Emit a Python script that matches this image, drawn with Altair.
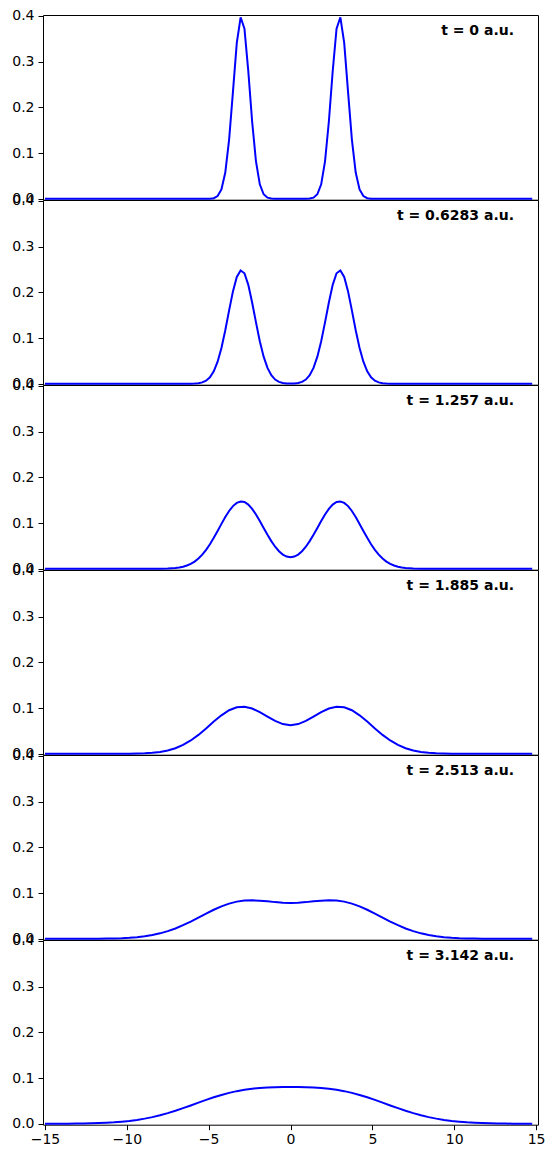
import altair as alt
import pandas as pd

# x sampling of the narrow packets (t = 0, t = 0.6283)
x_fine = [-15.0, -6.797, -6.563, -6.328, -6.094, -5.859, -5.625, -5.391, -5.156, -4.922,
          -4.688, -4.453, -4.219, -3.984, -3.75, -3.516, -3.281, -3.047, -2.813, -2.578,
          -2.344, -2.109, -1.875, -1.641, -1.406, -1.172, -0.938, -0.703, -0.469, -0.234,
          0.0, 0.234, 0.469, 0.703, 0.938, 1.172, 1.406, 1.641, 1.875, 2.109,
          2.344, 2.578, 2.813, 3.047, 3.281, 3.516, 3.75, 3.984, 4.219, 4.453,
          4.688, 4.922, 5.156, 5.391, 5.625, 5.859, 6.094, 6.328, 6.563, 6.797, 14.766]

# x sampling of the t = 1.257 packets (dense in the middle)
x_mid = [-15.0, -14.531, -14.063, -13.594, -13.125, -12.656, -12.188, -11.719, -11.25, -10.781,
         -10.313, -9.844, -9.375, -8.906, -8.438, -7.969, -7.5, -7.031,
         -6.797, -6.563, -6.328, -6.094, -5.859, -5.625, -5.391, -5.156, -4.922,
         -4.688, -4.453, -4.219, -3.984, -3.75, -3.516, -3.281, -3.047, -2.813, -2.578,
         -2.344, -2.109, -1.875, -1.641, -1.406, -1.172, -0.938, -0.703, -0.469, -0.234,
         0.0, 0.234, 0.469, 0.703, 0.938, 1.172, 1.406, 1.641, 1.875, 2.109,
         2.344, 2.578, 2.813, 3.047, 3.281, 3.516, 3.75, 3.984, 4.219, 4.453,
         4.688, 4.922, 5.156, 5.391, 5.625, 5.859, 6.094, 6.328, 6.563, 6.797,
         7.031, 7.5, 7.969, 8.438, 8.906, 9.375, 9.844, 10.313, 10.781, 11.25,
         11.719, 12.188, 12.656, 13.125, 13.594, 14.063, 14.531, 14.766]

# x sampling of the wider packets
x_coarse = [-15.0, -14.531, -14.063, -13.594, -13.125, -12.656, -12.188, -11.719, -11.25, -10.781,
            -10.313, -9.844, -9.375, -8.906, -8.438, -7.969, -7.5, -7.031, -6.563, -6.094,
            -5.625, -5.156, -4.688, -4.219, -3.75, -3.281, -2.813, -2.344, -1.875, -1.406,
            -0.938, -0.469, 0.0, 0.469, 0.938, 1.406, 1.875, 2.344, 2.813, 3.281,
            3.75, 4.219, 4.688, 5.156, 5.625, 6.094, 6.563, 7.031, 7.5, 7.969,
            8.438, 8.906, 9.375, 9.844, 10.313, 10.781, 11.25, 11.719, 12.188, 12.656,
            13.125, 13.594, 14.063, 14.531, 14.766]

dens_t0 = [0,
           0, 0, 0, 0, 0, 0, 0,
           0, 0.0002, 0.0013, 0.0059, 0.0205, 0.0575, 0.1295, 0.234, 0.341, 0.397,
           0.372, 0.279, 0.169, 0.0816, 0.0317, 0.0099, 0.0025, 0.0005, 0.0001,
           0, 0, 0, 0, 0, 0, 0,
           0.0001, 0.0005, 0.0025, 0.0099, 0.0317, 0.0816, 0.169, 0.279, 0.372,
           0.397, 0.341, 0.234, 0.1295, 0.0575, 0.0205, 0.0059, 0.0013, 0.0002,
           0, 0, 0, 0, 0, 0, 0, 0,
           0]

dens_t1 = [0,
           0, 0, 0, 0.0002, 0.0004, 0.0012, 0.0030, 0.0068, 0.0142, 0.0273,
           0.0483, 0.0785, 0.1172, 0.1606, 0.2021, 0.2336, 0.2480, 0.2417, 0.2164, 0.1779,
           0.1343, 0.0931, 0.0593, 0.0347, 0.0186, 0.0092, 0.0042, 0.0017, 0.0007,
           0.0005,
           0.0007, 0.0017, 0.0042, 0.0092, 0.0186, 0.0347, 0.0593, 0.0931, 0.1343,
           0.1779, 0.2164, 0.2417, 0.2480, 0.2336, 0.2021, 0.1606, 0.1172, 0.0785, 0.0483,
           0.0273, 0.0142, 0.0068, 0.0030, 0.0012, 0.0004, 0.0002, 0, 0, 0,
           0]

dens_t2 = [0, 0, 0, 0, 0, 0, 0, 0, 0, 0,
           0, 0, 0, 0, 0.0001, 0.0002, 0.0006, 0.0017,
           0.0029, 0.0046, 0.0072, 0.0108, 0.0158, 0.0224, 0.0309, 0.0414, 0.0537,
           0.0677, 0.0828, 0.0982, 0.1131, 0.1264, 0.1371, 0.1442, 0.1473, 0.1460, 0.1404,
           0.1311, 0.1188, 0.1045, 0.0894, 0.0743, 0.0605, 0.0482, 0.0384, 0.0311, 0.0267,
           0.0252,
           0.0267, 0.0311, 0.0384, 0.0482, 0.0605, 0.0743, 0.0894, 0.1045, 0.1188, 0.1311,
           0.1404, 0.1460, 0.1473, 0.1442, 0.1371, 0.1264, 0.1131, 0.0982, 0.0828, 0.0677,
           0.0537, 0.0414, 0.0309, 0.0224, 0.0158, 0.0108, 0.0072, 0.0046, 0.0029,
           0.0017, 0.0006, 0.0002, 0.0001, 0, 0, 0, 0, 0, 0,
           0, 0, 0, 0, 0, 0, 0,
           0]

dens_t3 = [0, 0, 0, 0, 0, 0, 0, 0,
           0, 0, 0.0001, 0.0002, 0.0005, 0.0010, 0.0021, 0.0040, 0.0071, 0.0121,
           0.0193, 0.0291, 0.0413, 0.0555, 0.0704, 0.0842, 0.0953, 0.1018, 0.1030, 0.0991,
           0.0911, 0.0812, 0.0718, 0.0650,
           0.0626,
           0.0650, 0.0718, 0.0812, 0.0911, 0.0991, 0.1030, 0.1018, 0.0953, 0.0842, 0.0704,
           0.0555, 0.0413, 0.0291, 0.0193, 0.0121, 0.0071, 0.0040, 0.0021, 0.0010, 0.0005,
           0.0002, 0.0001, 0, 0,
           0, 0, 0, 0, 0, 0, 0,
           0]

dens_t4 = [0, 0, 0, 0, 0, 0.0001, 0.0001, 0.0002, 0.0004, 0.0008,
           0.0013, 0.0022, 0.0035, 0.0055, 0.0082, 0.0119, 0.0167, 0.0226, 0.0297, 0.0377,
           0.0463, 0.0551, 0.0635, 0.0710, 0.0770, 0.0813, 0.0836, 0.0842, 0.0834, 0.0819,
           0.0802, 0.0789,
           0.0784,
           0.0789, 0.0802, 0.0819, 0.0834, 0.0842, 0.0836, 0.0813, 0.0770, 0.0710, 0.0635,
           0.0551, 0.0463, 0.0377, 0.0297, 0.0226, 0.0167, 0.0119, 0.0082, 0.0055, 0.0035,
           0.0022, 0.0013, 0.0008, 0.0004, 0.0002, 0.0001, 0.0001, 0, 0, 0, 0,
           0]

dens_t5 = [0.0001, 0.0001, 0.0002, 0.0003, 0.0004, 0.0006, 0.0010, 0.0015, 0.0022, 0.0031,
           0.0045, 0.0062, 0.0085, 0.0113, 0.0146, 0.0187, 0.0233, 0.0285, 0.0342, 0.0401,
           0.0462, 0.0522, 0.0579, 0.0631, 0.0676, 0.0714, 0.0744, 0.0767, 0.0783, 0.0793,
           0.0800, 0.0803,
           0.0804,
           0.0803, 0.0800, 0.0793, 0.0783, 0.0767, 0.0744, 0.0714, 0.0676, 0.0631, 0.0579,
           0.0522, 0.0462, 0.0401, 0.0342, 0.0285, 0.0233, 0.0187, 0.0146, 0.0113, 0.0085,
           0.0062, 0.0045, 0.0031, 0.0022, 0.0015, 0.0010, 0.0006, 0.0004, 0.0003, 0.0002,
           0.0001,
           0.0001]

labels = ["t = 0 a.u.", "t = 0.6283 a.u.", "t = 1.257 a.u.",
          "t = 1.885 a.u.", "t = 2.513 a.u.", "t = 3.142 a.u."]

x_ticks = [-15, -10, -5, 0, 5, 10, 15]
y_ticks = [0.0, 0.1, 0.2, 0.3, 0.4]

series = [(x_fine, dens_t0), (x_fine, dens_t1), (x_mid, dens_t2),
          (x_coarse, dens_t3), (x_coarse, dens_t4), (x_coarse, dens_t5)]

FONT = "DejaVu Sans"
x_scale = alt.Scale(domain=[-15.12, 15.12], nice=False, zero=False)
y_scale = alt.Scale(domain=[-0.002, 0.402], nice=False, zero=False)

panels = []
for i, ((xs, ys), lab) in enumerate(zip(series, labels)):
    df = pd.DataFrame({"x": xs, "y": ys})
    is_last = i == len(series) - 1
    if is_last:
        x_enc = alt.X("x:Q", scale=x_scale,
                      axis=alt.Axis(values=x_ticks, title=None, grid=False, domain=False,
                                    tickSize=5, labelPadding=3, labelFontSize=14))
    else:
        x_enc = alt.X("x:Q", scale=x_scale, axis=None)
    y_enc = alt.Y("y:Q", scale=y_scale,
                  axis=alt.Axis(values=y_ticks, format=".1f", title=None, grid=False,
                                domain=False, tickSize=5, labelPadding=4, labelFontSize=14))
    line = alt.Chart(df).mark_line(color="#0000ff", strokeWidth=2).encode(x=x_enc, y=y_enc)
    txt = alt.Chart(pd.DataFrame({"label": [lab]})).mark_text(
        align="right", baseline="middle", fontWeight="bold", fontSize=14,
        font=FONT, color="black"
    ).encode(x=alt.value(471), y=alt.value(16), text="label:N")
    panels.append(alt.layer(line, txt).properties(width=495, height=184.7))

chart = alt.vconcat(*panels, spacing=0, bounds="flush").properties(
    padding={"left": 3, "top": 0, "right": 0, "bottom": 0}
).configure_view(
    stroke="black", strokeWidth=1
).configure_axis(
    labelFont=FONT, labelColor="black", tickColor="black", tickWidth=1
).configure_text(font=FONT)

chart.save("out.html", embed_options={"renderer": "svg", "actions": False})
